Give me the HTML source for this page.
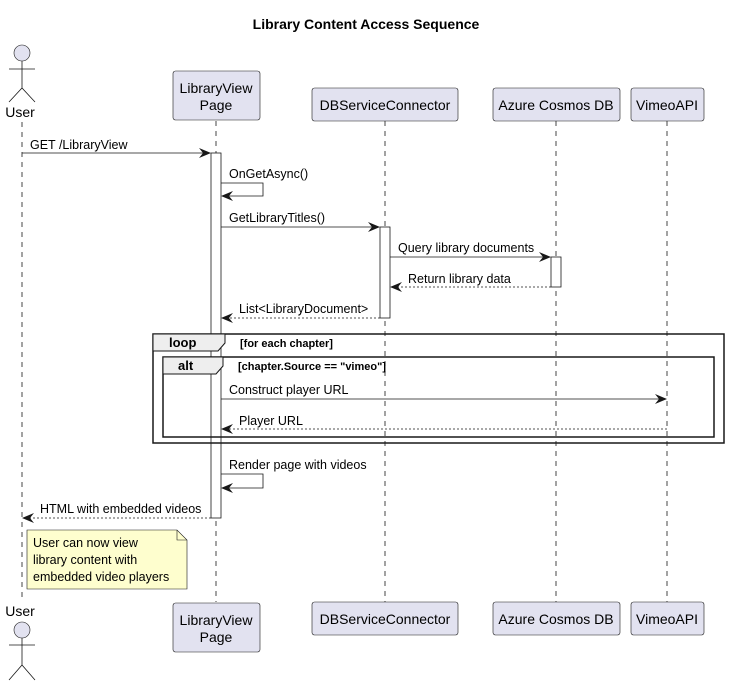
<!DOCTYPE html>
<html><head><meta charset="utf-8"><style>html,body{margin:0;padding:0;background:#fff}svg{display:block}text{font-family:"Liberation Sans",sans-serif;font-size:12.5px;fill:#000}</style></head><body>
<svg width="729" height="685" viewBox="0 0 729 685" xmlns="http://www.w3.org/2000/svg">
<defs>
<marker id="a" viewBox="0 0 12 10" refX="11" refY="5" markerWidth="12" markerHeight="10" markerUnits="userSpaceOnUse" orient="auto"><path d="M0,0 L12,5 L0,10 L4,5 Z" fill="#181818"/></marker>
</defs>
<text x="366" y="29" text-anchor="middle" style="font-weight:bold;font-size:14px">Library Content Access Sequence</text>
<g stroke="#181818" stroke-width="0.8" stroke-dasharray="5,5">
<line x1="22" y1="122" x2="22" y2="600"/>
<line x1="216" y1="121" x2="216" y2="602"/>
<line x1="385" y1="121" x2="385" y2="602"/>
<line x1="556" y1="121" x2="556" y2="602"/>
<line x1="667" y1="121" x2="667" y2="602"/>
</g>
<g fill="#e2e2f0" stroke="#181818" stroke-width="0.6">
<rect x="173" y="71" width="87" height="49" rx="2.5"/>
<rect x="312" y="88" width="146" height="33" rx="2.5"/>
<rect x="493" y="88" width="127" height="33" rx="2.5"/>
<rect x="631" y="88" width="73" height="33" rx="2.5"/>
<rect x="173" y="603" width="87" height="49" rx="2.5"/>
<rect x="312" y="602" width="146" height="33" rx="2.5"/>
<rect x="493" y="602" width="127" height="33" rx="2.5"/>
<rect x="631" y="602" width="73" height="33" rx="2.5"/>
<circle cx="22" cy="53" r="8"/>
<circle cx="22" cy="630" r="8"/>
</g>
<g text-anchor="middle" style="font-size:14px">
<text x="216" y="93" style="font-size:14px">LibraryView</text><text x="216" y="110" style="font-size:14px">Page</text>
<text x="385" y="110" style="font-size:14px">DBServiceConnector</text>
<text x="556" y="110" style="font-size:14px">Azure Cosmos DB</text>
<text x="667" y="110" style="font-size:14px">VimeoAPI</text>
<text x="216" y="625" style="font-size:14px">LibraryView</text><text x="216" y="642" style="font-size:14px">Page</text>
<text x="385" y="624" style="font-size:14px">DBServiceConnector</text>
<text x="556" y="624" style="font-size:14px">Azure Cosmos DB</text>
<text x="667" y="624" style="font-size:14px">VimeoAPI</text>
<text x="20" y="117" style="font-size:14px">User</text>
<text x="20" y="616" style="font-size:14px">User</text>
</g>
<g stroke="#181818" stroke-width="0.8" fill="none">
<path d="M22,61 V88 M9,69 H35 M9,102 L22,88 L35,102"/>
<path d="M22,638 V665 M9,645 H35 M9,680 L22,665 L35,680"/>
</g>
<g fill="#fff" stroke="#181818" stroke-width="0.8">
<rect x="211" y="153" width="10" height="365"/>
<rect x="380" y="227" width="10" height="91"/>
<rect x="551" y="257" width="10" height="30"/>
</g>
<g stroke="#181818" stroke-width="0.8" fill="none" marker-end="url(#a)">
<line x1="22" y1="153" x2="210" y2="153"/>
<path d="M221,183 H263 V196 H222"/>
<line x1="221" y1="227" x2="379" y2="227"/>
<line x1="390" y1="257" x2="550" y2="257"/>
<line x1="551" y1="287" x2="391" y2="287" stroke-dasharray="2,2"/>
<line x1="380" y1="318" x2="222" y2="318" stroke-dasharray="2,2"/>
<line x1="221" y1="399" x2="666" y2="399"/>
<line x1="667" y1="429" x2="222" y2="429" stroke-dasharray="2,2"/>
<path d="M221,474 H263 V488 H222"/>
<line x1="211" y1="518" x2="23" y2="518" stroke-dasharray="2,2"/>
</g>
<text x="30" y="149">GET /LibraryView</text>
<text x="229" y="178">OnGetAsync()</text>
<text x="229" y="222">GetLibraryTitles()</text>
<text x="398" y="252">Query library documents</text>
<text x="408" y="283">Return library data</text>
<text x="239" y="313">List&lt;LibraryDocument&gt;</text>
<text x="229" y="394">Construct player URL</text>
<text x="239" y="425">Player URL</text>
<text x="229" y="469">Render page with videos</text>
<text x="40" y="513">HTML with embedded videos</text>
<g stroke="#181818" stroke-width="1.5" fill="none">
<rect x="153" y="334" width="571" height="109"/>
<rect x="163" y="357" width="551" height="80"/>
</g>
<path d="M153,334 H225 V343 L218,351 H153 Z" fill="#eeeeee" stroke="#181818" stroke-width="1"/>
<path d="M163,357 H223 V366 L216,374 H163 Z" fill="#eeeeee" stroke="#181818" stroke-width="1"/>
<text x="169" y="347" style="font-weight:bold;font-size:13px">loop</text>
<text x="240" y="347" style="font-weight:bold;font-size:11px">[for each chapter]</text>
<text x="178" y="370" style="font-weight:bold;font-size:13px">alt</text>
<text x="238" y="370" style="font-weight:bold;font-size:11px">[chapter.Source == "vimeo"]</text>
<path d="M27,530 H177 L187,540 V589 H27 Z" fill="#fefece" stroke="#181818" stroke-width="0.6"/>
<path d="M177,530 V540 H187" fill="none" stroke="#181818" stroke-width="0.6"/>
<text x="33" y="547">User can now view</text>
<text x="33" y="564">library content with</text>
<text x="33" y="581">embedded video players</text>
</svg>
</body></html>
